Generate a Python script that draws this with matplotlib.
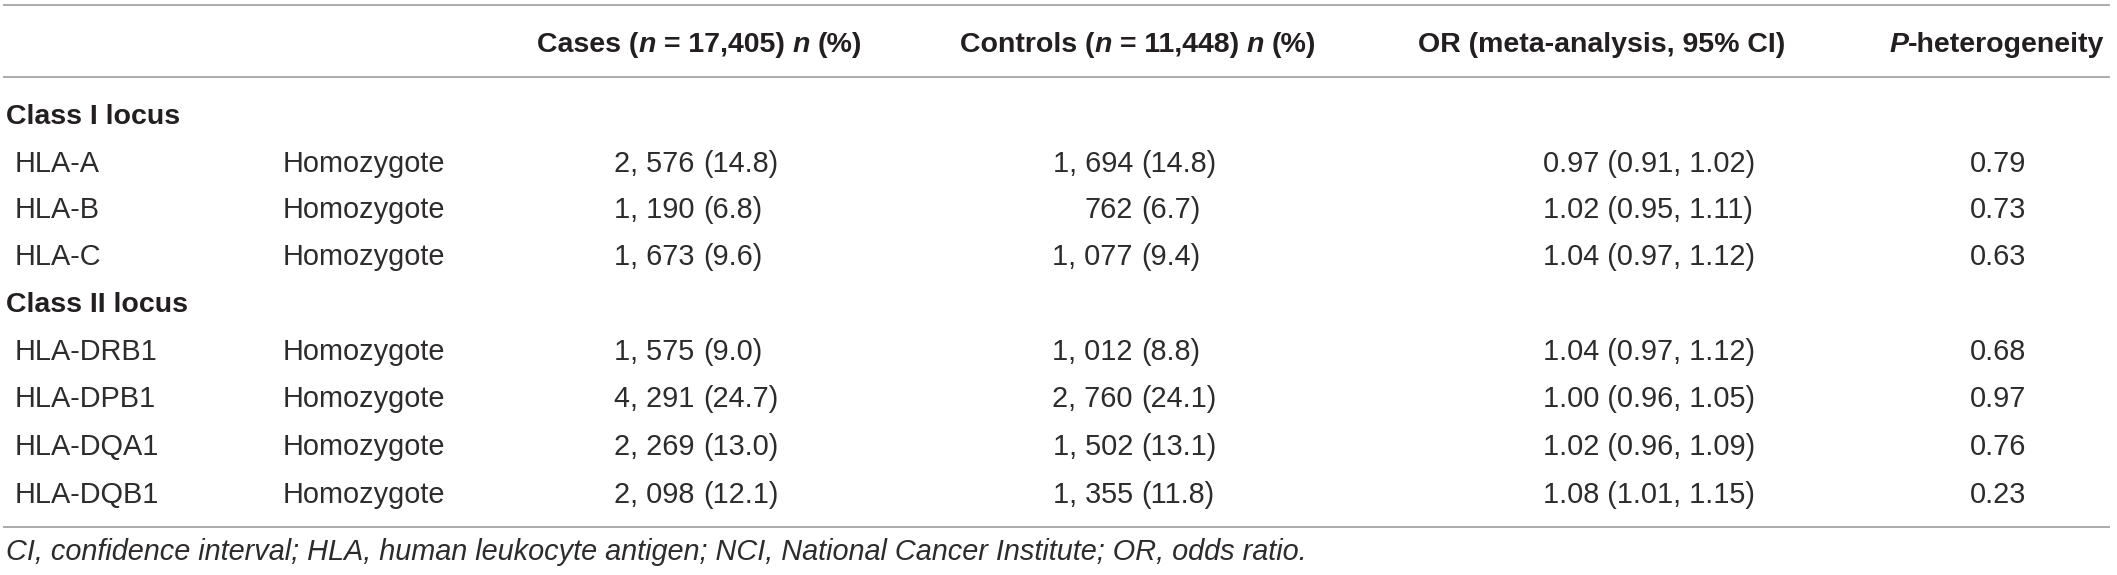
import matplotlib

matplotlib.use("Agg")
import matplotlib.pyplot as plt

plt.rcParams["font.family"] = ["Liberation Sans", "DejaVu Sans"]

# table content
groups = ["Class I locus", "Class II locus"]
loci = [
    ["HLA-A", "HLA-B", "HLA-C"],
    ["HLA-DRB1", "HLA-DPB1", "HLA-DQA1", "HLA-DQB1"],
]
genotype = "Homozygote"
cases_n = [2576, 1190, 1673, 1575, 4291, 2269, 2098]
cases_pct = [14.8, 6.8, 9.6, 9.0, 24.7, 13.0, 12.1]
controls_n = [1694, 762, 1077, 1012, 2760, 1502, 1355]
controls_pct = [14.8, 6.7, 9.4, 8.8, 24.1, 13.1, 11.8]
or_est = [0.97, 1.02, 1.04, 1.04, 1.00, 1.02, 1.08]
or_lo = [0.91, 0.95, 0.97, 0.97, 0.96, 0.96, 1.01]
or_hi = [1.02, 1.11, 1.12, 1.12, 1.05, 1.09, 1.15]
p_het = [0.79, 0.73, 0.63, 0.68, 0.97, 0.76, 0.23]
footnote = ("CI, confidence interval; HLA, human leukocyte antigen; "
            "NCI, National Cancer Institute; OR, odds ratio.")

W, H, DPI = 2117, 575, 100
TEXT = "#231f20"
BODY_COLOR = "#2e2b2c"
RULE = "#9d9d9d"
BODY = 20.8
HEAD = 20.5

fig = plt.figure(figsize=(W / DPI, H / DPI), dpi=DPI)
ax = fig.add_axes([0, 0, 1, 1])
ax.set_xlim(0, W)
ax.set_ylim(H, 0)
ax.axis("off")
renderer = fig.canvas.get_renderer()


def text_width(s, **kw):
    t = ax.text(0, 0, s, **kw)
    w = t.get_window_extent(renderer).width
    t.remove()
    return w


def draw_runs(x, y, runs, size, weight="normal"):
    # runs: list of (text, style); spaces are advanced by measured width
    space = text_width("a a", fontsize=size, fontweight=weight) - text_width("aa", fontsize=size, fontweight=weight)
    for s, style in runs:
        lead = len(s) - len(s.lstrip(" "))
        trail = len(s) - len(s.rstrip(" "))
        x += lead * space
        core = s.strip(" ")
        if core:
            t = ax.text(x, y, core, fontsize=size, fontweight=weight, fontstyle=style,
                        color=TEXT, ha="left", va="baseline")
            x += t.get_window_extent(renderer).width
        x += trail * space
    return x


def fmt_n(v):
    return f"{v:,}".replace(",", ", ")


# rules
for y in (5, 77, 527):
    ax.plot([3, 2110], [y, y], color=RULE, lw=1.2, solid_capstyle="butt")

# header
hy = 52
draw_runs(537, hy, [("Cases (", "normal"), ("n", "italic"), (" = 17,405) ", "normal"),
                    ("n", "italic"), (" (%)", "normal")], HEAD, "bold")
draw_runs(960, hy, [("Controls (", "normal"), ("n", "italic"), (" = 11,448) ", "normal"),
                    ("n", "italic"), (" (%)", "normal")], HEAD, "bold")
draw_runs(1418, hy, [("OR (meta-analysis, 95% CI)", "normal")], HEAD, "bold")
draw_runs(1889, hy, [("P", "italic"), ("-heterogeneity", "normal")], HEAD, "bold")

# body
group_y = [124, 312]
row_y = [[172, 218, 265], [360, 407, 455, 503]]
k = 0
for g, name in enumerate(groups):
    ax.text(6, group_y[g], name, fontsize=HEAD, fontweight="bold", color=TEXT, va="baseline")
    for j, locus in enumerate(loci[g]):
        y = row_y[g][j]
        kw = dict(fontsize=BODY, color=BODY_COLOR, va="baseline")
        ax.text(15, y, locus, **kw)
        ax.text(283, y, genotype, **kw)
        ax.text(694, y, fmt_n(cases_n[k]), ha="right", **kw)
        ax.text(703, y, f"({cases_pct[k]:.1f})", ha="left", **kw)
        ax.text(1133, y, fmt_n(controls_n[k]), ha="right", **kw)
        ax.text(1141, y, f"({controls_pct[k]:.1f})", ha="left", **kw)
        ax.text(1543, y, f"{or_est[k]:.2f} ({or_lo[k]:.2f}, {or_hi[k]:.2f})", ha="left", **kw)
        ax.text(1970, y, f"{p_het[k]:.2f}", ha="left", **kw)
        k += 1

ax.text(6, 560, footnote, fontsize=BODY, fontstyle="italic", color=BODY_COLOR, va="baseline")

fig.savefig("out.png", dpi=DPI)
